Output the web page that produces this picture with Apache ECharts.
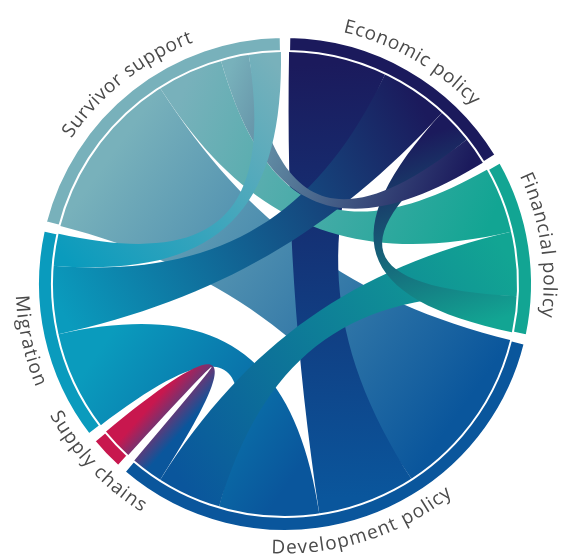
<!DOCTYPE html>
<html>
<head>
<meta charset="UTF-8">
<title>Policy chord</title>
<style>
  html, body { margin: 0; padding: 0; background: #fff; }
  #main { width: 562px; height: 556px; }
</style>
</head>
<body>
<div id="main"></div>
<script src="https://cdn.jsdelivr.net/npm/echarts@6.0.0/dist/echarts.min.js"></script>
<script>
// nodes, clockwise from the top
var nodeNames = ['Economic policy', 'Financial policy', 'Development policy', 'Supply chains', 'Migration', 'Survivor support'];
var nodeColors = ['#1b1a5c', '#12a593', '#0a569c', '#c8174e', '#0a9bbd', '#78b1bb'];

// links (order matters: it decides where each ribbon sits inside a node)
var linkSource = ['Development policy', 'Economic policy', 'Financial policy', 'Development policy', 'Economic policy',
                  'Financial policy', 'Economic policy', 'Economic policy', 'Migration', 'Development policy'];
var linkTarget = ['Survivor support', 'Development policy', 'Survivor support', 'Migration', 'Migration',
                  'Development policy', 'Financial policy', 'Survivor support', 'Survivor support', 'Supply chains'];
var linkValues = [43, 24.5, 16.5, 25, 17, 16, 9, 7, 8, 8];

var chart = echarts.init(document.getElementById('main'));
chart.setOption({
    animation: false,
    series: [{
        type: 'chord',
        center: [285, 284],
        radius: [233, 247],
        startAngle: 89,
        padAngle: 2,
        clockwise: true,
        silent: true,
        itemStyle: { borderColor: '#fff', borderWidth: 2, borderRadius: 0 },
        lineStyle: { color: 'gradient', opacity: 1, width: 0 },
        label: { show: false },
        emphasis: { disabled: true },
        data: nodeNames.map(function (n, i) {
            return { name: n, itemStyle: { color: nodeColors[i] } };
        }),
        links: linkValues.map(function (v, i) {
            return { source: linkSource[i], target: linkTarget[i], value: v };
        })
    }]
});

// curved labels, one text per letter, placed on the node arcs
var FONT = '19px "Open Sans"';
var LABEL_R = 264;
var SPACING = 0.9;
var ctx = document.createElement('canvas').getContext('2d');
ctx.font = FONT;
var nodeData = chart.getModel().getSeriesByIndex(0).getData();
var texts = [];
nodeNames.forEach(function (name, i) {
    var lay = nodeData.getItemLayout(i);
    var mid = (lay.startAngle + lay.endAngle) / 2;
    var flip = Math.sin(mid) > 0;
    var widths = name.split('').map(function (ch) { return ctx.measureText(ch).width + SPACING; });
    var total = widths.reduce(function (a, b) { return a + b; }, 0) - SPACING;
    var acc = 0;
    name.split('').forEach(function (ch, k) {
        var d = (acc + widths[k] / 2 - SPACING / 2) - total / 2;
        var th = flip ? mid - d / LABEL_R : mid + d / LABEL_R;
        acc += widths[k];
        texts.push({
            type: 'text',
            x: lay.cx + LABEL_R * Math.cos(th),
            y: lay.cy + LABEL_R * Math.sin(th),
            rotation: flip ? Math.PI / 2 - th : -(th + Math.PI / 2),
            style: { text: ch, font: FONT, fill: '#4a4a4a', align: 'center', verticalAlign: 'middle' }
        });
    });
});
chart.setOption({ graphic: texts });
</script>
</body>
</html>
